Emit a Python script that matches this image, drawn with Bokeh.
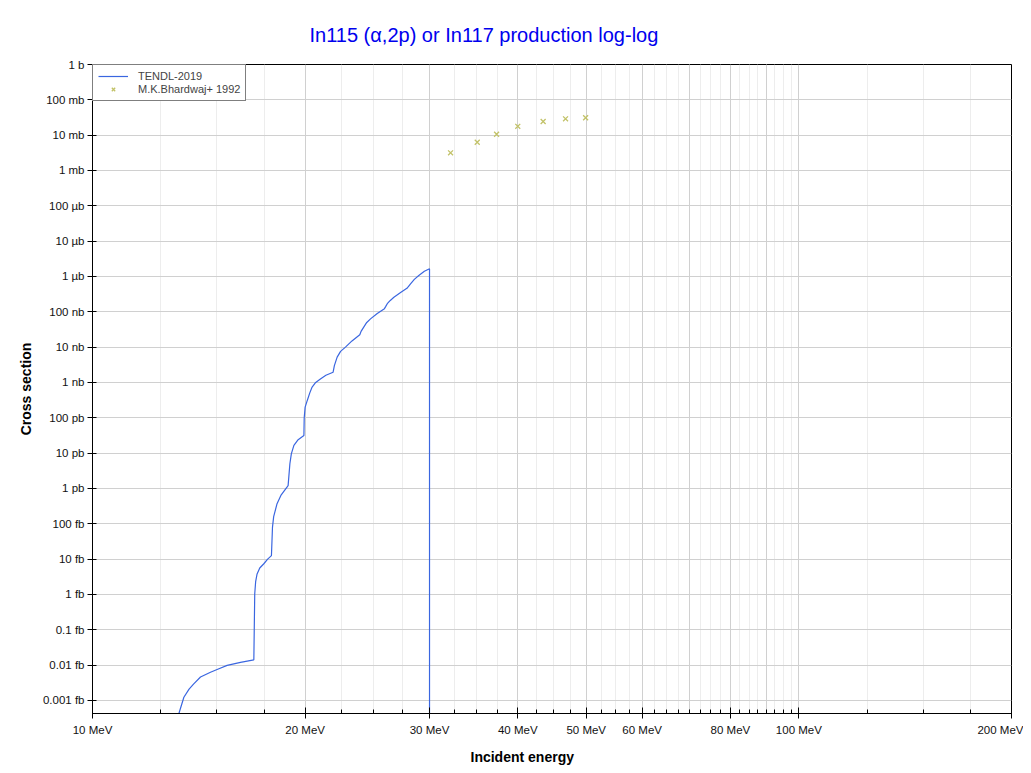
from bokeh.plotting import figure
from bokeh.models import FixedTicker, Title, Legend, LegendItem, Range1d, Grid
from bokeh.embed import file_html
from bokeh.resources import INLINE

title_text = "In115 (α,2p) or In117 production log-log"
x_label = "Incident energy"
y_label = "Cross section"

# TENDL-2019 evaluated curve (energy in MeV, cross section in barns)
tendl_energy = [13.05, 13.25, 13.47, 13.7, 13.91, 14.22, 14.69, 15.1, 15.51,
                16.2, 16.92, 16.97, 17.02, 17.1, 17.25, 17.48, 17.7, 17.92,
                17.98, 18.05, 18.25, 18.5, 18.92, 19.03, 19.12, 19.28, 19.55,
                19.92, 19.94, 20.0, 20.14, 20.3, 20.46, 20.7, 21.02, 21.4,
                21.91, 22.0, 22.2, 22.45, 22.81, 23.3, 23.9, 24.0, 24.21, 24.45,
                24.75, 25.3, 25.9, 26.0, 26.14, 26.4, 26.71, 27.3, 27.9, 28.0,
                28.2, 28.55, 28.97, 29.5, 30.0, 30.0]
tendl_xs = [6.3e-20, 4.2e-19, 1.23e-18, 2.1e-18, 2.95e-18, 4.6e-18, 6.3e-18,
            7.9e-18, 9.8e-18, 1.2e-17, 1.41e-17, 1.05e-15, 2.3e-15, 3.8e-15,
            5.6e-15, 7.4e-15, 1.0e-14, 1.26e-14, 7.9e-14, 1.6e-13, 3.7e-13,
            6.6e-13, 1.2e-12, 5.0e-12, 9.5e-12, 1.66e-11, 2.4e-11, 3.16e-11,
            1.0e-10, 2.0e-10, 3.1e-10, 5.0e-10, 7.4e-10, 1.0e-9, 1.26e-9,
            1.6e-9, 1.95e-9, 3.0e-9, 5.2e-9, 7.6e-9, 1.0e-8, 1.5e-8, 2.24e-8,
            2.8e-8, 3.7e-8, 5.0e-8, 6.3e-8, 9.0e-8, 1.23e-7, 1.4e-7, 1.7e-7,
            2.1e-7, 2.57e-7, 3.5e-7, 4.7e-7, 5.2e-7, 6.2e-7, 8.3e-7, 1.07e-6,
            1.4e-6, 1.66e-6, 1e-30]

# M.K.Bhardwaj+ 1992 experimental points
exp_energy = [32.13, 35.05, 37.33, 40.0, 43.45, 46.74, 49.9]
exp_xs = [3.16e-3, 6.3e-3, 1.06e-2, 1.78e-2, 2.44e-2, 2.9e-2, 3.1e-2]

# axis ticks
x_major_ticks = [10, 20, 30, 40, 50, 60, 80, 100, 200]
x_major_labels = ["10 MeV", "20 MeV", "30 MeV", "40 MeV", "50 MeV", "60 MeV",
                  "80 MeV", "100 MeV", "200 MeV"]
x_unlabeled_major = [70, 90]
x_minor_ticks = [12.5, 15, 17.5, 22.5, 25, 27.5, 32.5, 35, 37.5, 42.5, 45, 47.5,
                 52.5, 55, 57.5, 62.5, 65, 67.5, 70, 72.5, 75, 77.5, 82.5, 85,
                 87.5, 90, 92.5, 95, 97.5, 125, 150, 175]
y_ticks = [1e-18, 1e-17, 1e-16, 1e-15, 1e-14, 1e-13, 1e-12, 1e-11, 1e-10, 1e-9,
           1e-8, 1e-7, 1e-6, 1e-5, 1e-4, 1e-3, 1e-2, 1e-1, 1e0]
y_labels = ["0.001 fb", "0.01 fb", "0.1 fb", "1 fb", "10 fb", "100 fb", "1 pb",
            "10 pb", "100 pb", "1 nb", "10 nb", "100 nb", "1 µb", "10 µb", "100 µb",
            "1 mb", "10 mb", "100 mb", "1 b"]

FONT = "Liberation Sans"

p = figure(width=1023, height=772, x_axis_type="log", y_axis_type="log",
           x_range=Range1d(10, 200), y_range=Range1d(4.27e-19, 1.0),
           output_backend="svg", toolbar_location=None,
           min_border_left=92, min_border_right=12, min_border_top=64,
           min_border_bottom=59)
p.background_fill_color = "white"
p.border_fill_color = "white"
p.outline_line_color = "black"
p.outline_line_width = 1

xt = FixedTicker(ticks=x_major_ticks, minor_ticks=x_minor_ticks)
yt = FixedTicker(ticks=y_ticks, minor_ticks=[])

xa = p.xaxis[0]
xa.ticker = xt
xa.major_label_overrides = dict(zip(x_major_ticks, x_major_labels))
xa.major_label_text_font = FONT
xa.major_label_text_font_size = "11.5px"
xa.major_label_text_color = "#111111"
xa.major_label_standoff = 5
xa.major_tick_in = 6
xa.major_tick_out = 5
xa.minor_tick_in = 4
xa.minor_tick_out = 0
xa.axis_line_color = "black"
xa.major_tick_line_color = "black"
xa.minor_tick_line_color = "black"

ya = p.yaxis[0]
ya.ticker = yt
ya.major_label_overrides = dict(zip(y_ticks, y_labels))
ya.major_label_text_font = FONT
ya.major_label_text_font_size = "11.5px"
ya.major_label_text_color = "#111111"
ya.major_label_standoff = 3
ya.major_tick_in = 4
ya.major_tick_out = 5
ya.minor_tick_line_color = None
ya.axis_label = y_label
ya.axis_label_text_font = FONT
ya.axis_label_text_font_size = "14px"
ya.axis_label_text_font_style = "bold"
ya.axis_label_text_color = "black"
ya.axis_label_standoff = 6
ya.axis_line_color = "black"

p.xgrid.ticker = xt
p.xgrid.grid_line_color = "#d0d0d0"
p.xgrid.minor_grid_line_color = "#ededed"
p.ygrid.ticker = yt
p.ygrid.grid_line_color = "#d0d0d0"
extra_grid = Grid(dimension=0, ticker=FixedTicker(ticks=x_unlabeled_major),
                  grid_line_color="#d0d0d0")
p.add_layout(extra_grid)

r_tendl = p.line(tendl_energy, tendl_xs, line_color="#3a66e0", line_width=1.2)
r_exp = p.scatter(exp_energy, exp_xs, marker="x", size=7, line_color="#c2c268",
                  line_width=1.3)

legend = Legend(items=[LegendItem(label="TENDL-2019", renderers=[r_tendl]),
                       LegendItem(label="M.K.Bhardwaj+ 1992", renderers=[r_exp])],
                location="top_left", margin=0, padding=5, spacing=1,
                glyph_width=30, glyph_height=12, label_height=12,
                label_standoff=10, label_text_font=FONT,
                label_text_font_size="11px", border_line_color="black",
                border_line_width=1, background_fill_color="white",
                background_fill_alpha=1)
p.add_layout(legend)

xt_title = Title(text=x_label, align="left", offset=378, text_font=FONT,
                 text_font_size="14px", text_font_style="bold", text_color="black",
                 standoff=16)
p.add_layout(xt_title, "below")

main_title = Title(text=title_text, align="left", offset=217, text_font=FONT,
                   text_font_size="20px", text_font_style="normal",
                   text_color="#0000ee", standoff=37)
p.add_layout(main_title, "above")

open("out.html", "w").write(file_html(p, INLINE))
